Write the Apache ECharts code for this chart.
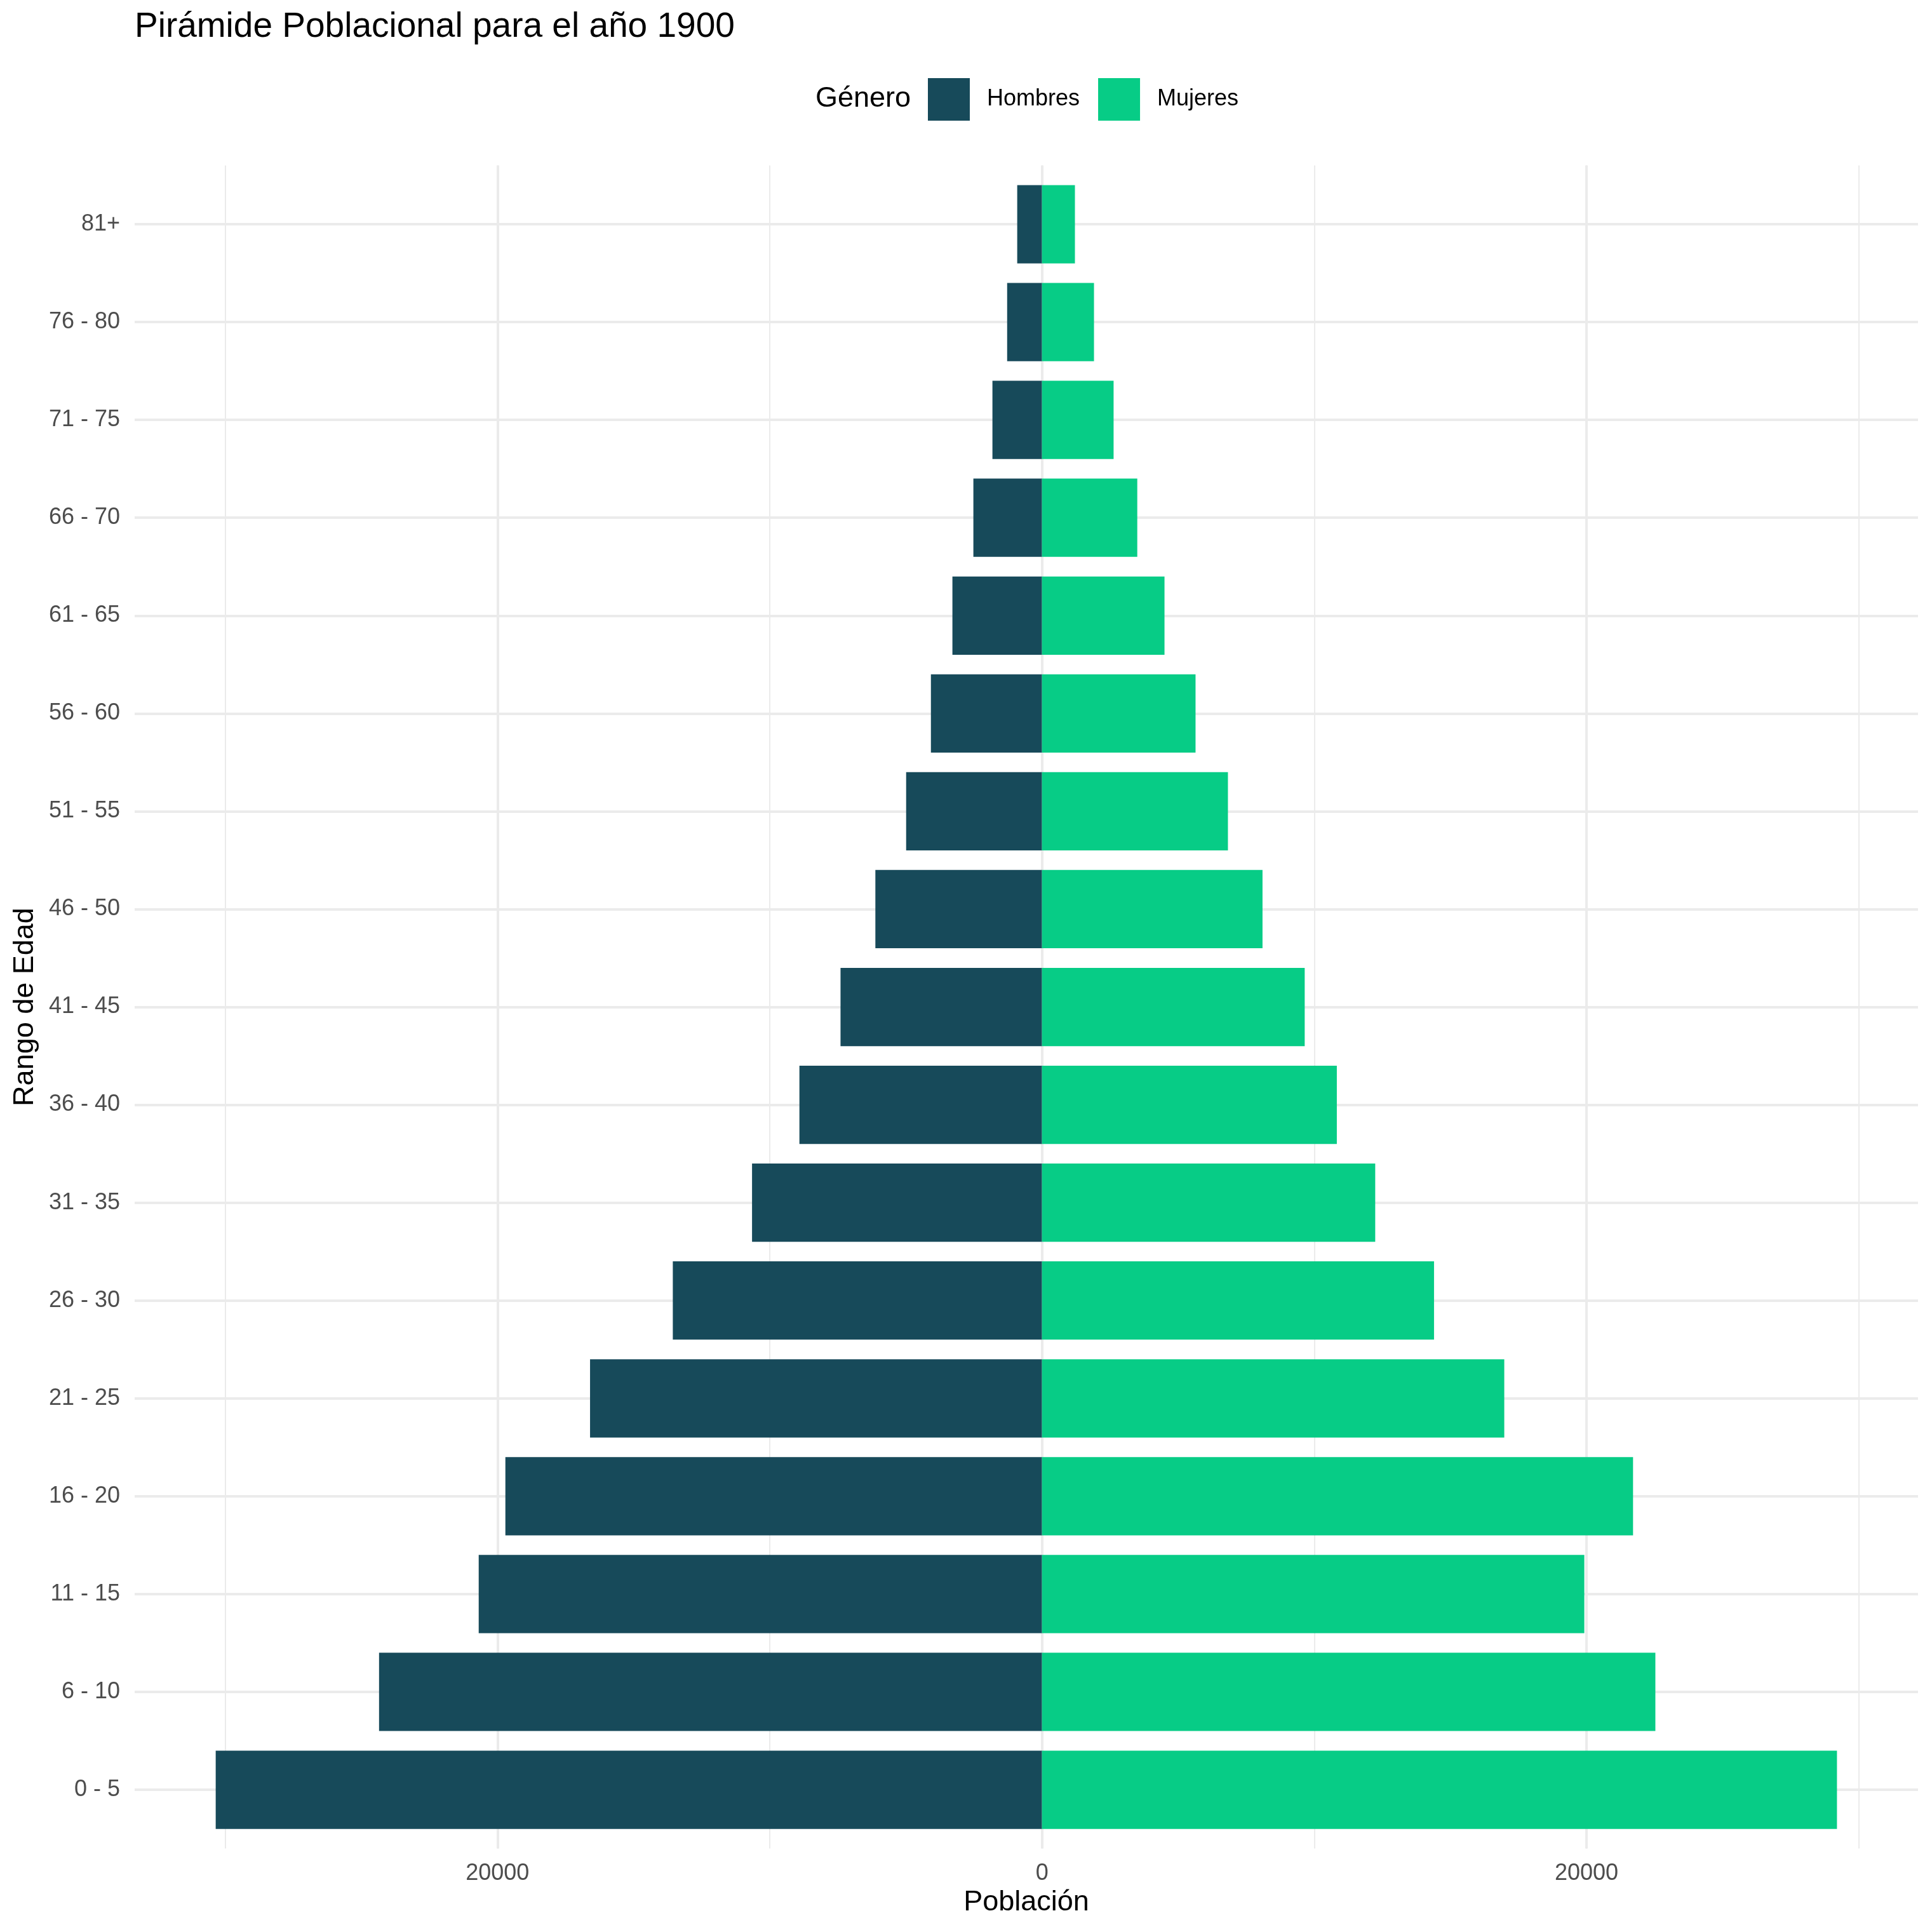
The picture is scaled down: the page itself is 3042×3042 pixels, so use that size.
<!DOCTYPE html>
<html>
<head>
<meta charset="utf-8">
<script src="https://cdn.jsdelivr.net/npm/echarts@6/dist/echarts.min.js"></script>
<style>
html,body{margin:0;padding:0;background:#fff;}
#c{width:3042px;height:3042px;}
</style>
</head>
<body>
<div id="c"></div>
<script>
const categories = ['0 - 5','6 - 10','11 - 15','16 - 20','21 - 25','26 - 30','31 - 35','36 - 40','41 - 45','46 - 50','51 - 55','56 - 60','61 - 65','66 - 70','71 - 75','76 - 80','81+'];
const hombres = [30350, 24350, 20690, 19710, 16600, 13560, 10650, 8910, 7400, 6120, 4990, 4080, 3290, 2520, 1820, 1280, 910];
const mujeres = [29200, 22530, 19920, 21710, 16980, 14400, 12240, 10830, 9650, 8100, 6830, 5640, 4500, 3500, 2630, 1910, 1210];
const majorBreaks = [-20000, 0, 20000];
const minorBreaks = [-30000, 30000];
const titleText = 'Pirámide Poblacional para el año 1900';

const FONT = '"Liberation Sans", Arial, Helvetica, sans-serif';
const W = 3042;
// panel (ggplot) geometry
const panelLeft = 212, panelRight = 3020;
const catTop = 353, catBottom = 2818; // centres of top/bottom category rows
const step = (catBottom - catTop) / (categories.length - 1);
// x range with ggplot 5% expansion
const dMin = -Math.max(...hombres), dMax = Math.max(...mujeres);
const span = dMax - dMin;
const xMin = dMin - 0.05 * span, xMax = dMax + 0.05 * span;
const pxPerUnit = (panelRight - panelLeft) / (xMax - xMin);
const px = v => panelLeft + (v - xMin) * pxPerUnit;
const panelTop = catTop - 0.6 * step, panelBottom = catBottom + 0.6 * step;

const grey = '#EBEBEB';
const chart = echarts.init(document.getElementById('c'), null, {renderer: 'canvas', width: W, height: W});

const option = {
  animation: false,
  backgroundColor: '#ffffff',
  textStyle: {fontFamily: FONT},
  grid: [
    // minor vertical lines
    {left: px(minorBreaks[0]), right: W - px(minorBreaks[1]), top: panelTop, bottom: W - panelBottom},
    // major vertical lines + tick labels
    {left: px(majorBreaks[0]), right: W - px(majorBreaks[2]), top: panelTop, bottom: W - panelBottom},
    // horizontal lines at category centres
    {left: panelLeft, right: W - panelRight, top: catTop, bottom: W - catBottom},
    // bars
    {left: panelLeft, right: W - panelRight, top: catTop - step / 2, bottom: W - (catBottom + step / 2)}
  ],
  xAxis: [
    {
      type: 'value', gridIndex: 0, min: minorBreaks[0], max: minorBreaks[1], interval: 10000,
      axisLine: {show: false}, axisTick: {show: false}, axisLabel: {show: false},
      splitLine: {show: true, lineStyle: {color: grey, width: 2}}
    },
    {
      type: 'value', gridIndex: 1, min: majorBreaks[0], max: majorBreaks[2], interval: 20000,
      axisLine: {show: false}, axisTick: {show: false},
      axisLabel: {
        show: true, fontSize: 36, color: '#4D4D4D', fontFamily: FONT, margin: 22,
        formatter: v => String(Math.abs(v))
      },
      splitLine: {show: true, lineStyle: {color: grey, width: 4}}
    },
    {type: 'value', gridIndex: 2, min: 0, max: 1, show: false},
    {
      type: 'value', gridIndex: 3, min: xMin, max: xMax,
      axisLine: {show: false}, axisTick: {show: false}, axisLabel: {show: false},
      splitLine: {show: false}
    }
  ],
  yAxis: [
    {type: 'value', gridIndex: 0, min: 0, max: 1, show: false},
    {type: 'value', gridIndex: 1, min: 0, max: 1, show: false},
    {
      type: 'value', gridIndex: 2, min: 0, max: categories.length - 1, interval: 1,
      axisLine: {show: false}, axisTick: {show: false}, axisLabel: {show: false},
      splitLine: {show: true, lineStyle: {color: grey, width: 4}}
    },
    {
      type: 'category', gridIndex: 3, data: categories, boundaryGap: true,
      axisLine: {show: false}, axisTick: {show: false},
      axisLabel: {fontSize: 36, color: '#4D4D4D', fontFamily: FONT, margin: 23},
      splitLine: {show: false}
    }
  ],
  legend: {
    data: ['Hombres', 'Mujeres'],
    left: 1461, top: 123, padding: 0,
    itemWidth: 66, itemHeight: 67, itemGap: 29,
    icon: 'rect',
    selectedMode: false,
    textStyle: {fontSize: 36, color: '#000', fontFamily: FONT, padding: [0, 0, 0, 22]}
  },
  graphic: [
    {type: 'text', x: panelLeft, y: 43, style: {text: titleText, fontSize: 55, fontFamily: FONT, fill: '#000', align: 'left', verticalAlign: 'middle'}},
    {type: 'text', x: 1284, y: 156, style: {text: 'Género', fontSize: 45, fontFamily: FONT, fill: '#000', align: 'left', verticalAlign: 'middle'}},
    {type: 'text', x: (panelLeft + panelRight) / 2, y: 2996, style: {text: 'Población', fontSize: 45, fontFamily: FONT, fill: '#000', align: 'center', verticalAlign: 'middle'}},
    {type: 'text', x: 40, y: (panelTop + panelBottom) / 2, rotation: Math.PI / 2, style: {text: 'Rango de Edad', fontSize: 45, fontFamily: FONT, fill: '#000', align: 'center', verticalAlign: 'middle'}}
  ],
  series: [
    {
      name: 'Hombres', type: 'bar', xAxisIndex: 3, yAxisIndex: 3, z: 2,
      barWidth: '80%', barGap: '-100%',
      itemStyle: {color: '#174A5A'},
      data: hombres.map(v => -v)
    },
    {
      name: 'Mujeres', type: 'bar', xAxisIndex: 3, yAxisIndex: 3, z: 2,
      barWidth: '80%', barGap: '-100%',
      itemStyle: {color: '#07CC86'},
      data: mujeres
    }
  ]
};
chart.setOption(option);
</script>
</body>
</html>
